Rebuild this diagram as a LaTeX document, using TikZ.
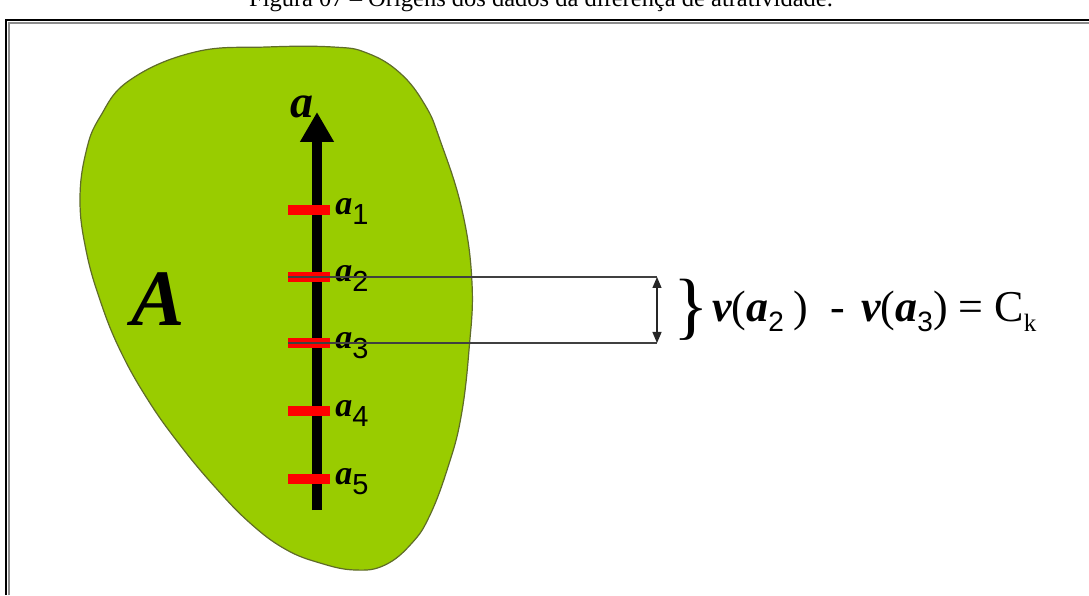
\documentclass[tikz,border=0pt]{standalone}
\usepackage{fontspec}
\setmainfont{Liberation Serif}
\setsansfont{Liberation Sans}
\usepackage{tikz}
\usetikzlibrary{positioning, arrows.meta, calc}

\definecolor{blobgreen}{RGB}{153,204,0}
\definecolor{blobedge}{RGB}{95,108,40}
\definecolor{tickred}{RGB}{255,0,0}

\newcommand{\fsz}[1]{\fontsize{#1}{#1}\selectfont}
\newcommand{\bia}{{\bfseries\itshape a}}
\newcommand{\biv}{{\bfseries\itshape v}}
\newcommand{\subd}[2]{\raisebox{-10pt}{\sffamily\fsz{#2}#1}}

\begin{document}
\begin{tikzpicture}[
  x=1pt, y=1pt,
  blob/.style={fill=blobgreen, draw=blobedge, line width=1.2pt},
  axis/.style={line width=10pt, -{Triangle[width=32pt, length=30pt]}},
  tick/.style={fill=tickred, minimum width=42pt, minimum height=10pt,
    inner sep=0pt},
  ticklbl/.style={anchor=base west, inner sep=0pt, font=\fsz{34}},
  guide/.style={draw=black!75, line width=1.2pt},
  dimarrow/.style={{Triangle[length=11pt, width=9pt]}-{Triangle[length=11pt, width=9pt]},
    line width=1.2pt, black!85},
  frameline/.style={line width=2pt, black},
]
  \useasboundingbox (0,0) rectangle (1089,595);
  \clip (0,0) rectangle (1089,595);

  % caption cut off by the page edge
  \node[font=\fsz{24.5}, anchor=base] (title) at (541,588)
    {Figura 07 -- Origens dos dados da diferença de atratividade.};
  \draw[black!45, line width=1.5pt] (9,0) -- (9,572) -- (1089,572);
  \draw[frameline] (6,0) -- (6,575) -- (1089,575);

  % the set A
  \draw[blob] plot[smooth cycle, tension=0.7] coordinates {
    (267,548) (333,548) (367,542) (400,522) (425,490) (440,455)
    (462,385) (472,312) (469,245) (461,178) (448,128) (430,80)
    (412,52) (385,30) (355,25) (320,32) (285,46) (250,72)
    (215,108) (180,150) (148,195) (120,245) (100,295) (86,345)
    (80,395) (86,443) (100,478) (130,515) (195,543)};
  \node[font=\fsz{80}\bfseries\itshape, inner sep=0pt] (setA) at (158,296) {A};

  % attribute axis
  \coordinate (base) at (317,85);
  \coordinate (tip) at (317,483);
  \draw[axis] (base) -- (tip);
  \node[font=\fsz{46}, anchor=base east, inner sep=0pt] (alab) at (314,477) {\bia};

  \node[tick] (tk1) at (309,385) {};
  \node[tick] (tk2) at (309,318) {};
  \node[tick] (tk3) at (309,252) {};
  \node[tick] (tk4) at (309,184) {};
  \node[tick] (tk5) at (309,116) {};

  \node[ticklbl] (l1) at ($(tk1.east)+(5,-5)$) {\bia\subd{1}{29}};
  \node[ticklbl] (l2) at ($(tk2.east)+(5,-5)$) {\bia\subd{2}{29}};
  \node[ticklbl] (l3) at ($(tk3.east)+(5,-5)$) {\bia\subd{3}{29}};
  \node[ticklbl] (l4) at ($(tk4.east)+(5,-5)$) {\bia\subd{4}{29}};
  \node[ticklbl] (l5) at ($(tk5.east)+(5,-5)$) {\bia\subd{5}{29}};

  % distance between a2 and a3
  \coordinate (m2) at (657,318);
  \coordinate (m3) at (657,252);
  \draw[guide] (tk2.west) -- (m2);
  \draw[guide] (tk3.west) -- (m3);
  \draw[dimarrow] (m2) -- (m3);

  \node[font=\fsz{74}, inner sep=0pt] (brc) at (691,285) {\}};
  \node[font=\fsz{44}, anchor=base west, inner sep=0pt] (diff) at (712,273)
    {\biv(\bia\subd{2}{28}\hspace{10pt})\hspace{22pt}-\hspace{16pt}\biv(\bia\subd{3}{28}) = C\raisebox{-10pt}{\fsz{25}k}};
\end{tikzpicture}
\end{document}
